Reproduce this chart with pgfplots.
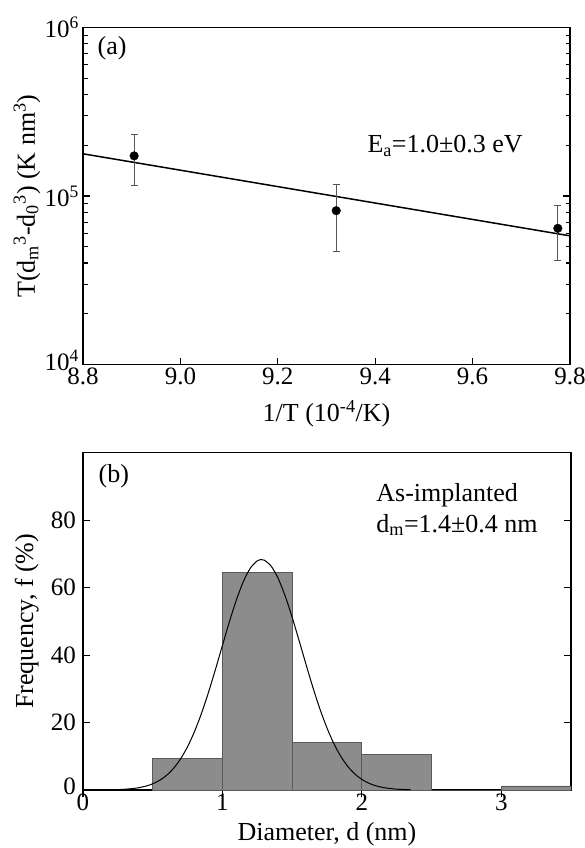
\documentclass[border=0pt]{standalone}
\usepackage{fontspec}
\setmainfont{Liberation Serif}
\usepackage{pgfplots}
\pgfplotsset{compat=1.18}

\definecolor{barfill}{HTML}{8C8C8C}
\definecolor{baredge}{HTML}{5A5A5A}
\definecolor{errgray}{HTML}{555555}

\pgfplotsset{
  panel/.style={
    scale only axis,
    anchor=south west,
    axis line style={line width=1.3pt},
    tick style={line width=1.1pt, black},
    major tick length=7pt,
    minor tick length=4.5pt,
    tick align=inside,
    xtick pos=lower,
    ytick pos=both,
    tick label style={font=\fontsize{25}{30}\selectfont},
    label style={font=\fontsize{26}{31}\selectfont},
    xlabel style={at={(axis description cs:0.5,-0.146)}, anchor=center},
    ylabel style={at={(axis description cs:-0.115,0.5)}, anchor=center},
  },
}

\begin{document}
\begin{tikzpicture}[font=\fontsize{26}{31}\selectfont]
\useasboundingbox (0,0) rectangle (585pt,848pt);

% (a) Arrhenius plot
\begin{axis}[
  panel,
  at={(83pt,483.5pt)},
  width=487pt, height=337pt,
  ymode=log,
  xmin=8.8, xmax=9.8,
  ymin=1e4, ymax=1e6,
  xtick={8.8,9.0,9.2,9.4,9.6,9.8},
  xticklabels={8.8,9.0,9.2,9.4,9.6,9.8},
  ytick={1e4,1e5,1e6},
  yticklabels={\raisebox{8pt}{10\textsuperscript{4}},10\textsuperscript{5},10\textsuperscript{6}},
  yticklabel style={inner xsep=4pt},
  xlabel={1/T (10\textsuperscript{-4}/K)},
  ylabel={T(d\textsubscript{m}\textsuperscript{3}-d\textsubscript{0}\textsuperscript{3}) (K nm\textsuperscript{3})},
]
\addplot[black, line width=1.5pt] coordinates {(8.8,1.78e5)(9.8,5.8e4)};
\addplot[errgray, line width=1.1pt, mark=-, mark size=3.5pt] coordinates {(8.905,1.15e5)(8.905,2.32e5)};
\addplot[errgray, line width=1.1pt, mark=-, mark size=3.5pt] coordinates {(9.32,4.67e4)(9.32,1.17e5)};
\addplot[errgray, line width=1.1pt, mark=-, mark size=3.5pt] coordinates {(9.775,4.16e4)(9.775,8.73e4)};
\addplot[only marks, mark=*, mark size=4.3pt, black] coordinates {(8.905,1.73e5)(9.32,8.18e4)(9.775,6.43e4)};
\node[anchor=west] at (rel axis cs:0.023,0.938) {(a)};
\node[anchor=west] at (rel axis cs:0.577,0.648) {E\textsubscript{a}=1.0±0.3 eV};
\end{axis}

% (b) size distribution
\begin{axis}[
  panel,
  at={(83pt,58pt)},
  width=488pt, height=337.3pt,
  xmin=0, xmax=3.5,
  ymin=0, ymax=100,
  xtick={0,1,2,3},
  xticklabels={0,1,2,3},
  ytick={0,20,40,60,80},
  yticklabels={\raisebox{8pt}{0},20,40,60,80},
  yticklabel style={inner xsep=7pt},
  x tick style={yshift=-7pt},
  xlabel={Diameter, d (nm)},
  xlabel style={at={(axis description cs:0.5,-0.131)}},
  ylabel={Frequency, f (\%)},
]
\addplot[ybar interval, fill=barfill, draw=baredge, line width=0.8pt]
  coordinates {(0.5,9.4)(1.0,64.6)(1.5,14.2)(2.0,10.6)(2.5,0)(3.0,1.2)(3.5,1.2)};
\addplot[black, line width=1pt, smooth] coordinates {
  (0.25,0.12)(0.30,0.23)(0.35,0.40)(0.40,0.68)(0.45,1.14)(0.50,1.84)
  (0.55,2.88)(0.60,4.37)(0.65,6.45)(0.70,9.24)(0.75,12.85)(0.80,17.36)
  (0.85,22.75)(0.90,28.95)(0.95,35.75)(1.00,42.85)(1.05,49.87)(1.10,56.33)
  (1.15,61.77)(1.20,65.76)(1.25,67.94)(1.28,68.30)(1.30,68.14)(1.35,66.34)
  (1.40,62.70)(1.45,57.51)(1.50,51.22)(1.55,44.28)(1.60,37.16)(1.65,30.26)
  (1.70,23.93)(1.75,18.37)(1.80,13.69)(1.85,9.90)(1.90,6.95)(1.95,4.73)
  (2.00,3.13)(2.05,2.01)(2.10,1.25)(2.15,0.76)(2.20,0.45)(2.25,0.25)
  (2.30,0.14)(2.35,0.08)};
\node[anchor=west] at (rel axis cs:0.025,0.929) {(b)};
\node[anchor=west] at (rel axis cs:0.594,0.875) {As-implanted};
\node[anchor=west] at (rel axis cs:0.594,0.786) {d\textsubscript{m}=1.4±0.4 nm};
\end{axis}
\end{tikzpicture}
\end{document}
